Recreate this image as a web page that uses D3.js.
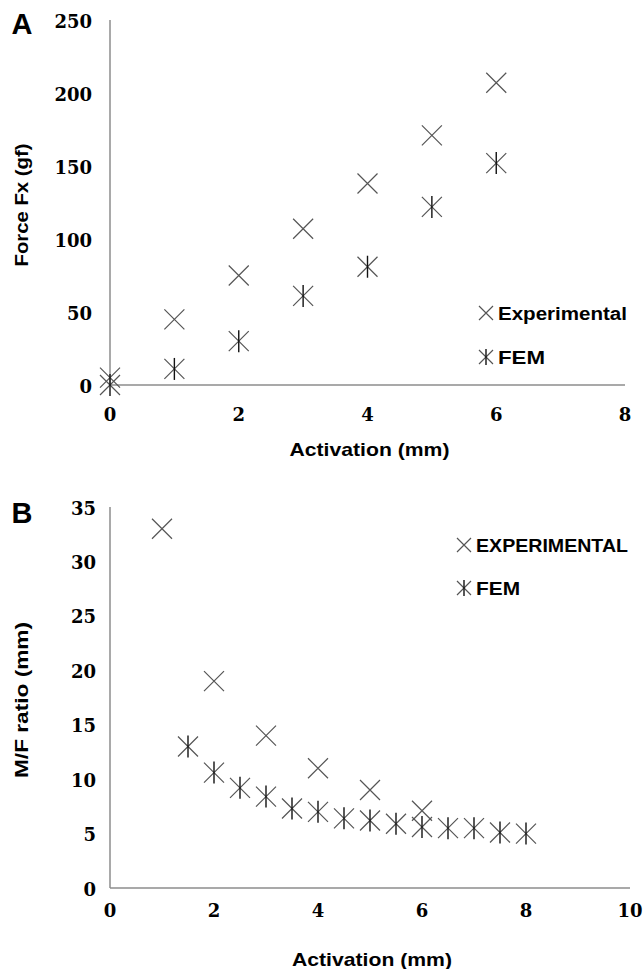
<!DOCTYPE html>
<html>
<head>
<meta charset="utf-8">
<script src="https://cdn.jsdelivr.net/npm/d3@7"></script>
<style>
  body { margin: 0; background: #fff; }
  svg { display: block; }
  .tick-lbl { font-family: "DejaVu Serif", serif; font-weight: bold; font-size: 18px; fill: #000; }
  .ax-title { font-family: "Liberation Sans Narrow", "Liberation Sans", sans-serif; font-weight: bold; font-size: 19px; fill: #000; }
  .leg { font-family: "Liberation Sans Narrow", "Liberation Sans", sans-serif; font-weight: bold; font-size: 18px; fill: #000; }
  .panel { font-family: "Liberation Sans", Arial, sans-serif; font-weight: bold; font-size: 29px; fill: #000; }
</style>
</head>
<body>
<div id="chart"></div>
<script>
// Panel A: force vs activation
var actA = [0, 1, 2, 3, 4, 5, 6];
var expA = [5, 45, 75, 107, 138, 171, 207];
var femA = [0, 11, 30, 61, 81, 122, 152];
var xTicksA = [0, 2, 4, 6, 8];
var yTicksA = [0, 50, 100, 150, 200, 250];

// Panel B: M/F ratio vs activation
var actExpB = [1, 2, 3, 4, 5, 6];
var expB = [33, 19, 14, 11, 9, 7.1];
var actFemB = [1.5, 2, 2.5, 3, 3.5, 4, 4.5, 5, 5.5, 6, 6.5, 7, 7.5, 8];
var femB = [13, 10.6, 9.2, 8.4, 7.3, 7.0, 6.4, 6.2, 5.9, 5.6, 5.5, 5.5, 5.1, 5.0];
var xTicksB = [0, 2, 4, 6, 8, 10];
var yTicksB = [0, 5, 10, 15, 20, 25, 30, 35];

var W = 643, H = 969;

var svg = d3.select('#chart').append('svg')
  .attr('width', W)
  .attr('height', H);

function drawMarker(g, x, y, s, star) {
  g.append('path')
    .attr('d', 'M' + (-s) + ',' + (-s) + 'L' + s + ',' + s + 'M' + (-s) + ',' + s + 'L' + s + ',' + (-s))
    .attr('transform', 'translate(' + x + ',' + y + ')')
    .attr('fill', 'none')
    .attr('stroke', '#555')
    .attr('stroke-width', 1.2);
  if (star) {
    g.append('path')
      .attr('d', 'M0,' + (-s - 1) + 'L0,' + (s + 1))
      .attr('transform', 'translate(' + x + ',' + y + ')')
      .attr('stroke', '#111')
      .attr('stroke-width', 1.4);
  }
}

function drawPanel(cfg) {
  var g = svg.append('g');
  var x = d3.scaleLinear().domain(cfg.xDomain).range([cfg.left, cfg.right]);
  var y = d3.scaleLinear().domain(cfg.yDomain).range([cfg.bottom, cfg.top]);

  // axis lines, no tick marks
  g.append('line')
    .attr('x1', x(cfg.xDomain[0])).attr('x2', x(cfg.xDomain[1]))
    .attr('y1', y(0)).attr('y2', y(0))
    .attr('stroke', '#8c8c8c').attr('stroke-width', 1.5);
  g.append('line')
    .attr('x1', x(0)).attr('x2', x(0))
    .attr('y1', y(cfg.yDomain[0])).attr('y2', y(cfg.yDomain[1]))
    .attr('stroke', '#8c8c8c').attr('stroke-width', 1.5);

  g.selectAll('.xl').data(cfg.xTicks).enter().append('text')
    .attr('class', 'tick-lbl')
    .attr('x', function (d) {return x(d);})
    .attr('y', cfg.bottom + cfg.xLblOff)
    .attr('text-anchor', 'middle')
    .attr('dominant-baseline', 'central')
    .text(function (d) {return d;});

  g.selectAll('.yl').data(cfg.yTicks).enter().append('text')
    .attr('class', 'tick-lbl')
    .attr('x', cfg.yLblRight)
    .attr('y', function (d) {return y(d) + 1;})
    .attr('text-anchor', 'end')
    .attr('dominant-baseline', 'central')
    .text(function (d) {return d;});

  g.append('text')
    .attr('class', 'ax-title')
    .attr('x', (cfg.left + cfg.right) / 2 + 2)
    .attr('y', cfg.xTitleY)
    .attr('text-anchor', 'middle')
    .attr('dominant-baseline', 'central')
    .attr('textLength', 160)
    .attr('lengthAdjust', 'spacingAndGlyphs')
    .text('Activation (mm)');

  g.append('text')
    .attr('class', 'ax-title')
    .attr('transform', 'translate(21,' + cfg.yTitleY + ') rotate(-90)')
    .attr('text-anchor', 'middle')
    .attr('dominant-baseline', 'central')
    .attr('textLength', cfg.yTitleLen)
    .attr('lengthAdjust', 'spacingAndGlyphs')
    .text(cfg.yTitle);

  g.append('text')
    .attr('class', 'panel')
    .attr('x', 22)
    .attr('y', cfg.panelY)
    .attr('text-anchor', 'middle')
    .attr('dominant-baseline', 'central')
    .text(cfg.panel);

  // data markers
  cfg.expX.forEach(function (d, i) {drawMarker(g, x(d), y(cfg.expY[i]), 10, false);});
  cfg.femX.forEach(function (d, i) {drawMarker(g, x(d), y(cfg.femY[i]), 10, true);});

  // legend
  cfg.legend.forEach(function (l, i) {
    drawMarker(g, cfg.legX, cfg.legY[i], 7, i === 1);
    g.append('text')
      .attr('class', 'leg')
      .attr('x', cfg.legX + 12)
      .attr('y', cfg.legY[i] + 1)
      .attr('dominant-baseline', 'central')
      .attr('textLength', cfg.legLen[i])
      .attr('lengthAdjust', 'spacingAndGlyphs')
      .text(l);
  });
}

drawPanel({
  panel: 'A', panelY: 24,
  xDomain: [0, 8], yDomain: [0, 250],
  left: 110, right: 625, top: 20, bottom: 385,
  xTicks: xTicksA, yTicks: yTicksA,
  xLblOff: 29, yLblRight: 92, xTitleY: 449,
  yTitle: 'Force Fx (gf)', yTitleY: 205, yTitleLen: 123,
  expX: actA, expY: expA, femX: actA, femY: femA,
  legend: ['Experimental', 'FEM'], legX: 486, legY: [313, 357], legLen: [129, 47]
});

drawPanel({
  panel: 'B', panelY: 513,
  xDomain: [0, 10], yDomain: [0, 35],
  left: 110, right: 630, top: 507, bottom: 888,
  xTicks: xTicksB, yTicks: yTicksB,
  xLblOff: 22, yLblRight: 96, xTitleY: 959,
  yTitle: 'M/F ratio (mm)', yTitleY: 700, yTitleLen: 156,
  expX: actExpB, expY: expB, femX: actFemB, femY: femB,
  legend: ['EXPERIMENTAL', 'FEM'], legX: 464, legY: [545, 588], legLen: [152, 44]
});
</script>
</body>
</html>
